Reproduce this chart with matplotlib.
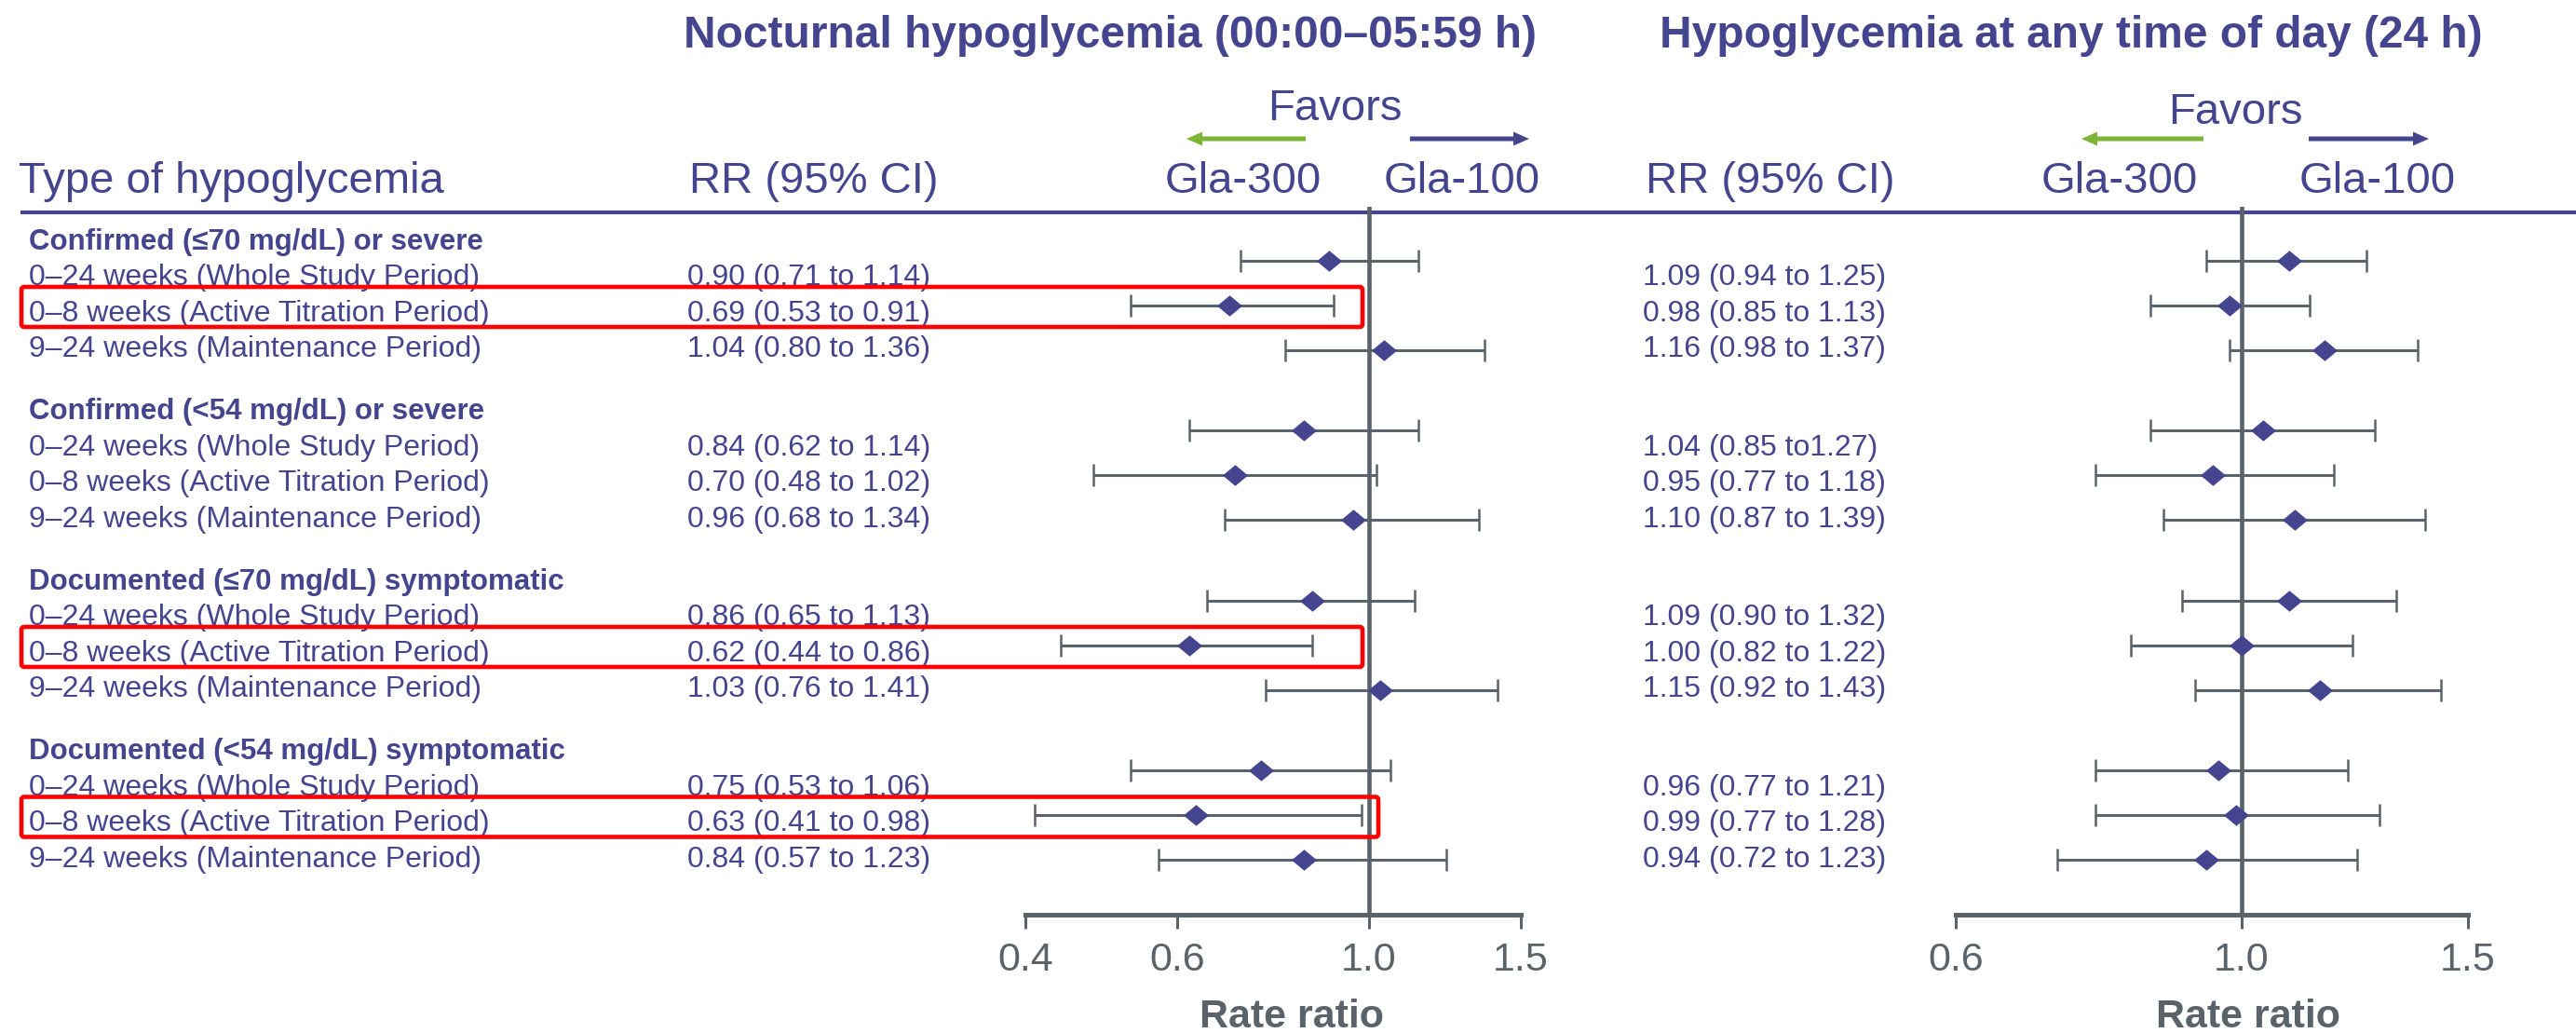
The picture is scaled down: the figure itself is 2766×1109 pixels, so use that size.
import numpy as np
import matplotlib
matplotlib.use("Agg")
import matplotlib.pyplot as plt
from matplotlib.patches import FancyArrow, FancyBboxPatch
from matplotlib.ticker import NullLocator

plt.rcParams['font.family'] = ['Liberation Sans', 'DejaVu Sans']

# ---------------- data ----------------
groups = ["Confirmed (\u226470 mg/dL) or severe",
          "Confirmed (<54 mg/dL) or severe",
          "Documented (\u226470 mg/dL) symptomatic",
          "Documented (<54 mg/dL) symptomatic"]
periods = ["0\u201324 weeks (Whole Study Period)",
           "0\u20138 weeks (Active Titration Period)",
           "9\u201324 weeks (Maintenance Period)"]

noct_rr = [0.90, 0.69, 1.04, 0.84, 0.70, 0.96, 0.86, 0.62, 1.03, 0.75, 0.63, 0.84]
noct_lo = [0.71, 0.53, 0.80, 0.62, 0.48, 0.68, 0.65, 0.44, 0.76, 0.53, 0.41, 0.57]
noct_hi = [1.14, 0.91, 1.36, 1.14, 1.02, 1.34, 1.13, 0.86, 1.41, 1.06, 0.98, 1.23]

any_rr = [1.09, 0.98, 1.16, 1.04, 0.95, 1.10, 1.09, 1.00, 1.15, 0.96, 0.99, 0.94]
any_lo = [0.94, 0.85, 0.98, 0.85, 0.77, 0.87, 0.90, 0.82, 0.92, 0.77, 0.77, 0.72]
any_hi = [1.25, 1.13, 1.37, 1.27, 1.18, 1.39, 1.32, 1.22, 1.43, 1.21, 1.28, 1.23]

noct_ticks = [0.4, 0.6, 1.0, 1.5]
any_ticks = [0.6, 1.0, 1.5]
tick_labels_noct = ["0.4", "0.6", "1.0", "1.5"]
tick_labels_any = ["0.6", "1.0", "1.5"]

title_noct = "Nocturnal hypoglycemia (00:00\u201305:59 h)"
title_any = "Hypoglycemia at any time of day (24 h)"

# highlighted rows: (group index, period index)
highlight = [(0, 1), (2, 1), (3, 1)]


def fmt(r, l, h):
    return f"{r:.2f} ({l:.2f} to {h:.2f})"


noct_text = [fmt(r, l, h) for r, l, h in zip(noct_rr, noct_lo, noct_hi)]
any_text = [fmt(r, l, h) for r, l, h in zip(any_rr, any_lo, any_hi)]
any_text[3] = any_text[3].replace(" to 1", " to1")  # as printed in the original

# ---------------- style ----------------
NAVY = "#45458f"
GRAY = "#5a626a"
GREEN = "#7db536"
RED = "#ff0000"

W, H = 2766, 1109
DPI = 100
fig = plt.figure(figsize=(W / DPI, H / DPI), dpi=DPI)
fig.patch.set_facecolor("white")

bg = fig.add_axes([0, 0, 1, 1])
bg.set_xlim(0, W)
bg.set_ylim(H, 0)
bg.axis("off")


def txt(x, ycap, s, size, ha="left", bold=False, color=NAVY):
    px = size / 0.72
    bg.text(x, ycap + 0.358 * px, s, fontsize=size, ha=ha, va="baseline",
            fontweight="bold" if bold else "normal", color=color)


# layout of rows (pixel rows)
GROUP_Y0 = 256.5
GROUP_STEP = 182.5
LINE_STEP = 38.5
MARK_STEP = 48.0


def header_y(g):
    return GROUP_Y0 + g * GROUP_STEP


def row_y(g, r):
    return header_y(g) + LINE_STEP * (r + 1)


def mark_y(g, r):
    return header_y(g) + 2 * LINE_STEP - 6 + (r - 1) * MARK_STEP


# titles
txt(1192, 34, title_noct, 34.5, ha="center", bold=True)
txt(2224, 34, title_any, 34.5, ha="center", bold=True)

# header row
HS = 34
txt(20, 190, "Type of hypoglycemia", HS)
txt(740, 190, "RR (95% CI)", HS)
txt(1767, 190, "RR (95% CI)", HS)
txt(1335, 190, "Gla-300", HS, ha="center")
txt(1570, 190, "Gla-100", HS, ha="center")
txt(2276, 190, "Gla-300", HS, ha="center")
txt(2553, 190, "Gla-100", HS, ha="center")
txt(1433, 112, "Favors", 34, ha="center")
txt(2400, 116, "Favors", 34, ha="center")

# favour arrows
for (xs, xe, col) in [(1402, 1274, GREEN), (1514, 1642, NAVY),
                      (2366, 2235, GREEN), (2479, 2608, NAVY)]:
    bg.add_patch(FancyArrow(xs, 149, xe - xs, 0, width=5, head_width=15,
                            head_length=17, length_includes_head=True,
                            color=col, lw=0))

# header rule
bg.plot([22, W], [228, 228], color=NAVY, lw=3.0, solid_capstyle="butt")

# table text
k = 0
for g, gname in enumerate(groups):
    txt(31, header_y(g), gname, 22.5, bold=True)
    for r, pname in enumerate(periods):
        txt(31, row_y(g, r), pname, 23)
        txt(738, row_y(g, r), noct_text[k], 23)
        txt(1764, row_y(g, r), any_text[k], 23)
        k += 1

# x-axis titles
txt(1387, 1088, "Rate ratio", 31, ha="center", bold=True, color=GRAY)
txt(2414, 1088, "Rate ratio", 31, ha="center", bold=True, color=GRAY)

# ---------------- forest panels ----------------
ys = [mark_y(g, r) for g in range(len(groups)) for r in range(len(periods))]
diamond = [(-1.2, 0), (0, 1), (1.2, 0), (0, -1), (-1.2, 0)]


def forest(x0, x1, lim, ticks, labels, rr, lo, hi):
    ax = fig.add_axes([x0 / W, 1 - 982 / H, (x1 - x0) / W, (982 - 222) / H])
    ax.patch.set_visible(False)
    ax.set_xscale("log")
    ax.set_xlim(*lim)
    ax.set_ylim(982, 222)
    ax.set_xticks(ticks)
    ax.set_xticklabels(labels)
    ax.xaxis.set_minor_locator(NullLocator())
    for s in ["left", "right", "top"]:
        ax.spines[s].set_visible(False)
    ax.spines["bottom"].set_color(GRAY)
    ax.spines["bottom"].set_linewidth(3.6)
    ax.tick_params(axis="x", length=11, width=2.2, color=GRAY,
                   labelcolor=GRAY, labelsize=31, pad=10)
    ax.tick_params(axis="y", left=False, labelleft=False)
    ax.axvline(1.0, color=GRAY, lw=3.3, zorder=1)
    rr = np.array(rr)
    lo = np.array(lo)
    hi = np.array(hi)
    ax.errorbar(rr, ys, xerr=[rr - lo, hi - rr], fmt="none", ecolor=GRAY,
                elinewidth=2.2, capsize=8.5, capthick=1.8, zorder=2)
    ax.plot(rr, ys, ls="none", marker=diamond, ms=19.5, mfc=NAVY, mec=NAVY,
            mew=0, zorder=3)
    return ax


forest(1101, 1633, (0.4, 1.5), noct_ticks, tick_labels_noct,
       noct_rr, noct_lo, noct_hi)
forest(2100, 2650, (0.6, 1.5), any_ticks, tick_labels_any,
       any_rr, any_lo, any_hi)

# highlight boxes
box_right = [1463, 1463, 1480]
for (g, r), xr in zip(highlight, box_right):
    yc = row_y(g, r) - 4
    box = FancyBboxPatch((23, yc - 21.5), xr - 23, 43,
                         boxstyle="round,pad=0,rounding_size=3",
                         fill=False, ec=RED, lw=3.3,
                         transform=bg.transData, zorder=10)
    fig.patches.append(box)

fig.savefig("out.png", dpi=DPI, facecolor="white")
